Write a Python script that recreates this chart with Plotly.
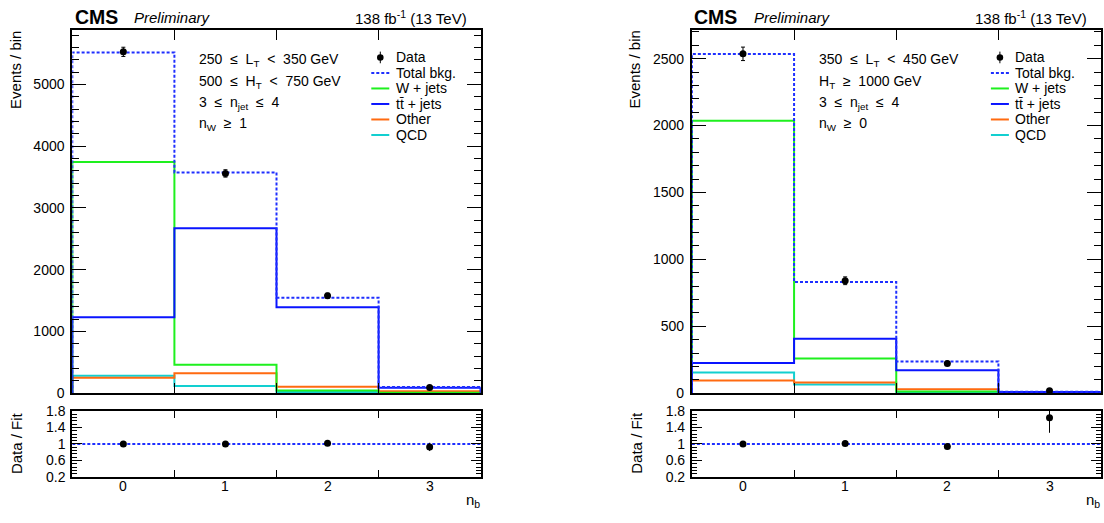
import numpy as np
import plotly.graph_objects as go

W, H = 1104, 523

# ---------------- data ----------------
nb = [0, 1, 2, 3]
nb_labels = ["0", "1", "2", "3"]

left_data = [5530, 3560, 1580, 92]
left_total = [5520, 3575, 1547, 99]
left_wjets = [3745, 460, 42, 6]
left_ttbar = [1230, 2672, 1391, 89]
left_other = [250, 323, 105, 30]
left_qcd = [281, 115, 20, 2]
left_ratio = [1.00, 1.00, 1.02, 0.93]
left_ratio_err = [0.015, 0.018, 0.027, 0.10]

right_data = [2536, 840, 222, 17]
right_total = [2534, 831, 237, 10.5]
right_wjets = [2036, 259, 12, 1]
right_ttbar = [225, 406, 172, 8]
right_other = [94, 80, 29, 2]
right_qcd = [155, 65, 5, 0.5]
right_ratio = [1.00, 1.01, 0.94, 1.63]
right_ratio_err = [0.02, 0.035, 0.065, 0.36]

S = "\u00a0\u00a0"
left_info = [f"250{S}\u2264{S}L<sub>T</sub>{S}<{S}350 GeV",
             f"500{S}\u2264{S}H<sub>T</sub>{S}<{S}750 GeV",
             f"3{S}\u2264{S}n<sub>jet</sub>{S}\u2264{S}4",
             f"n<sub>W</sub>{S}\u2265{S}1"]
right_info = [f"350{S}\u2264{S}L<sub>T</sub>{S}<{S}450 GeV",
              f"H<sub>T</sub>{S}\u2265{S}1000 GeV",
              f"3{S}\u2264{S}n<sub>jet</sub>{S}\u2264{S}4",
              f"n<sub>W</sub>{S}\u2265{S}0"]

legend_names = ["Data", "Total bkg.", "W + jets", "tt\u0304 + jets", "Other", "QCD"]

C_TOTAL = "#1f2fff"
C_W = "#1ef01e"
C_TT = "#0a14ff"
C_OTHER = "#ff6a10"
C_QCD = "#12cfd0"
FONT = "Liberation Sans, Arial, sans-serif"

edges = [b - 0.5 for b in nb] + [nb[-1] + 0.5]


def step_xy(vals):
    xs = [edges[0]] + list(edges) + [edges[-1]]
    ys = [0] + list(vals) + [vals[-1], 0]
    return xs, ys


def px_x(x):
    return x / W


def px_y(y):
    return 1 - y / H


fig = go.Figure()

panels = [
    dict(xa="x", ya="y", xr="x2", yr="y2", data=left_data, total=left_total, w=left_wjets,
         tt=left_ttbar, oth=left_other, qcd=left_qcd, ratio=left_ratio, rerr=left_ratio_err,
         x0=72.3, x1=480.7, info=left_info, ymax=5890, dt=1000, mdt=200),
    dict(xa="x3", ya="y3", xr="x4", yr="y4", data=right_data, total=right_total, w=right_wjets,
         tt=right_ttbar, oth=right_other, qcd=right_qcd, ratio=right_ratio, rerr=right_ratio_err,
         x0=691.9, x1=1100.6, info=right_info, ymax=2717, dt=500, mdt=100),
]

for p in panels:
    for vals, col in [(p["qcd"], C_QCD), (p["oth"], C_OTHER), (p["w"], C_W), (p["tt"], C_TT)]:
        xs, ys = step_xy(vals)
        fig.add_trace(go.Scatter(x=xs, y=ys, mode="lines", line=dict(color=col, width=2, shape="hv"),
                                 xaxis=p["xa"], yaxis=p["ya"], showlegend=False, hoverinfo="skip"))
    xs, ys = step_xy(p["total"])
    fig.add_trace(go.Scatter(x=xs, y=ys, mode="lines",
                             line=dict(color=C_TOTAL, width=2, shape="hv", dash="3px,2px"),
                             xaxis=p["xa"], yaxis=p["ya"], showlegend=False, hoverinfo="skip"))
    fig.add_trace(go.Scatter(x=nb, y=p["data"], mode="markers",
                             marker=dict(color="black", size=7),
                             error_y=dict(type="data", array=list(np.sqrt(p["data"])), color="black",
                                          thickness=1, width=2),
                             xaxis=p["xa"], yaxis=p["ya"], showlegend=False))
    # ratio
    fig.add_trace(go.Scatter(x=[edges[0], edges[-1]], y=[1, 1], mode="lines",
                             line=dict(color=C_TOTAL, width=2, dash="3px,2px"),
                             xaxis=p["xr"], yaxis=p["yr"], showlegend=False, hoverinfo="skip"))
    fig.add_trace(go.Scatter(x=nb, y=p["ratio"], mode="markers",
                             marker=dict(color="black", size=7),
                             error_y=dict(type="data", array=p["rerr"], color="black",
                                          thickness=1, width=0),
                             xaxis=p["xr"], yaxis=p["yr"], showlegend=False))

axis_common = dict(showline=True, linecolor="black", linewidth=2, mirror="ticks",
                   ticks="inside", tickcolor="black", showgrid=False, zeroline=False,
                   tickfont=dict(family=FONT, size=14, color="black"))

main_top, main_bot = 22.3, 397.3
rat_top, rat_bot = 415.5, 484

layout = dict(
    width=W, height=H, autosize=False, margin=dict(l=0, r=0, t=0, b=0, pad=0),
    plot_bgcolor="white", paper_bgcolor="white", showlegend=False, hovermode=False,
    font=dict(family=FONT, color="black"),
)

for i, p in enumerate(panels):
    n = 2 * i
    xa = "xaxis" if n == 0 else f"xaxis{n+1}"
    ya = "yaxis" if n == 0 else f"yaxis{n+1}"
    xr = f"xaxis{n+2}"
    yr = f"yaxis{n+2}"
    dom = [px_x(p["x0"]), px_x(p["x1"])]
    layout[xa] = dict(axis_common, domain=dom, range=[edges[0], edges[-1]], anchor=p["ya"],
                      tickvals=edges[1:-1], showticklabels=False, ticklen=10)
    layout[ya] = dict(axis_common, domain=[px_y(main_bot), px_y(main_top)], range=[0, p["ymax"]],
                      anchor=p["xa"], dtick=p["dt"], tick0=0, ticklen=14, tickformat="d",
                      minor=dict(ticks="inside", ticklen=7, dtick=p["mdt"], tick0=0, tickcolor="black"),
                      ticklabelstandoff=3)
    layout[xr] = dict(axis_common, domain=dom, range=[edges[0], edges[-1]], anchor=p["yr"],
                      tickvals=edges[1:-1], showticklabels=False, ticklen=7)
    layout[yr] = dict(axis_common, domain=[px_y(rat_bot), px_y(rat_top)], range=[0.2, 1.8],
                      anchor=p["xr"], tickvals=[0.2, 0.6, 1.0, 1.4, 1.8],
                      ticktext=["0.2", "0.6", "1", "1.4", "1.8"], ticklen=10,
                      minor=dict(ticks="inside", ticklen=5, dtick=0.08, tick0=0.2, tickcolor="black"),
                      ticklabelstandoff=2)

annotations = []
shapes = []
for i, p in enumerate(panels):
    x0, x1 = p["x0"], p["x1"]
    # CMS header
    annotations.append(dict(x=px_x(x0 + 0.5), y=px_y(9.5), xref="paper", yref="paper", xanchor="left",
                            yanchor="middle", showarrow=False, text="<b>CMS</b>",
                            font=dict(family=FONT, size=19.5, color="black")))
    annotations.append(dict(x=px_x(x0 + 60), y=px_y(10), xref="paper", yref="paper", xanchor="left",
                            yanchor="middle", showarrow=False, text="<i>Preliminary</i>",
                            font=dict(family=FONT, size=15, color="black")))
    annotations.append(dict(x=px_x(x1 - 11.5), y=px_y(10), xref="paper", yref="paper", xanchor="right",
                            yanchor="middle", showarrow=False, text="138 fb<sup>-1</sup> (13 TeV)",
                            font=dict(family=FONT, size=15, color="black")))
    # axis titles
    annotations.append(dict(x=px_x(x0 - 57), y=px_y(main_top - 1), xref="paper", yref="paper",
                            xanchor="center", yanchor="top", textangle=-90, showarrow=False,
                            text="Events / bin", font=dict(family=FONT, size=15, color="black")))
    annotations.append(dict(x=px_x(x0 - 55), y=px_y(rat_top - 1), xref="paper", yref="paper",
                            xanchor="center", yanchor="top", textangle=-90, showarrow=False,
                            text="Data / Fit", font=dict(family=FONT, size=15, color="black")))
    annotations.append(dict(x=px_x(x1 + 1), y=px_y(508), xref="paper", yref="paper",
                            xanchor="right", yanchor="middle", showarrow=False,
                            text="n<sub>b</sub>", font=dict(family=FONT, size=15, color="black")))
    # x tick labels at bin centres
    for b, lab in zip(nb, nb_labels):
        annotations.append(dict(x=b, y=px_y(493), xref=p["xr"], yref="paper",
                                xanchor="center", yanchor="middle", showarrow=False, text=lab,
                                font=dict(family=FONT, size=14, color="black")))
    # info text
    for k, t in enumerate(p["info"]):
        annotations.append(dict(x=px_x(x0 + 125), y=px_y(54 + 22 * k), xref="paper", yref="paper",
                                xanchor="left", yanchor="middle", showarrow=False, text=t,
                                font=dict(family=FONT, size=14, color="black")))
    # legend
    leg_cols = [None, C_TOTAL, C_W, C_TT, C_OTHER, C_QCD]
    for k, (name, col) in enumerate(zip(legend_names, leg_cols)):
        yy = 51 + 16 * k
        annotations.append(dict(x=px_x(x0 + 321.5), y=px_y(yy), xref="paper", yref="paper",
                                xanchor="left", yanchor="middle", showarrow=False, text=name,
                                font=dict(family=FONT, size=14, color="black")))
        if col is None:
            cx = x0 + 308
            shapes.append(dict(type="circle", xref="paper", yref="paper",
                               x0=px_x(cx - 3.3), x1=px_x(cx + 3.3), y0=px_y(yy - 3.3), y1=px_y(yy + 3.3),
                               fillcolor="black", line=dict(color="black", width=0)))
            shapes.append(dict(type="line", xref="paper", yref="paper",
                               x0=px_x(cx), x1=px_x(cx), y0=px_y(yy - 6), y1=px_y(yy + 6),
                               line=dict(color="black", width=1)))
        else:
            shapes.append(dict(type="line", xref="paper", yref="paper",
                               x0=px_x(x0 + 299), x1=px_x(x0 + 317), y0=px_y(yy), y1=px_y(yy),
                               line=dict(color=col, width=2, dash="3px,2px" if k == 1 else "solid")))

layout["annotations"] = annotations
layout["shapes"] = shapes
fig.update_layout(**layout)
fig.write_html("out.html", config={"displayModeBar": False, "staticPlot": True},
               post_script="document.body.style.margin='0';document.body.style.overflow='hidden';")
